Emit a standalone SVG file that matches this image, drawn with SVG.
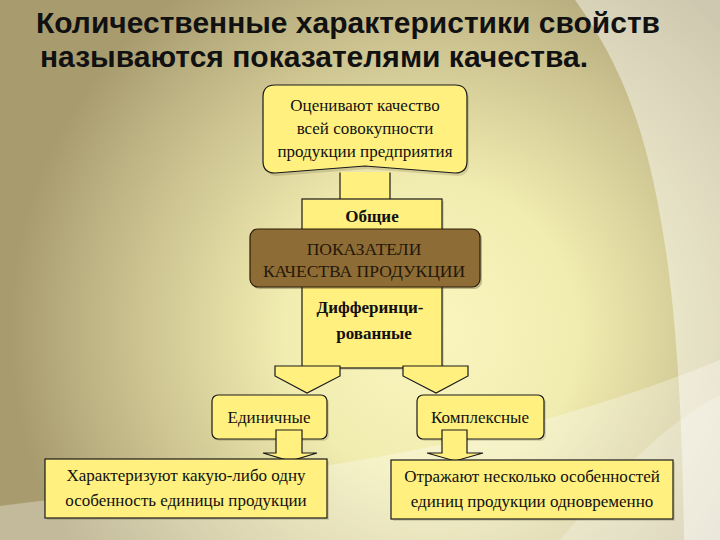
<svg xmlns="http://www.w3.org/2000/svg" width="720" height="540" viewBox="0 0 720 540">
<defs>
<radialGradient id="bg" cx="430" cy="330" r="420" gradientUnits="userSpaceOnUse">
<stop offset="0" stop-color="#faf6bf"/>
<stop offset="0.35" stop-color="#f1ecb0"/>
<stop offset="0.7" stop-color="#cbc290"/>
<stop offset="1" stop-color="#a89c6f"/>
</radialGradient>
<style>
.box{fill:#fff07f;stroke:#1a1a1a;stroke-width:1.2}
.sh{fill:#5a4f2a;opacity:0.18}
.t{font-family:"Liberation Serif","Times New Roman",serif;font-size:17px;fill:#111;text-anchor:middle}
.b{font-weight:bold}
.m{font-size:17.5px;fill:#24180a}
.title{font-family:"Liberation Sans",Arial,sans-serif;font-weight:bold;font-size:29px;fill:#111}
.arr{fill:#fff07f;stroke:#1a1a1a;stroke-width:1.2;stroke-linejoin:miter}
</style>
</defs>
<rect width="720" height="540" fill="url(#bg)"/>
<path d="M575,0 C640,90 680,200 684,540 L720,540 L720,0 Z" fill="#ffffff" opacity="0.45"/>
<path d="M0,506 C200,480 450,470 720,360 L720,540 L0,540 Z" fill="#ffffff" opacity="0.3"/>
<path d="M560,540 C620,470 670,420 720,395 L720,540 Z" fill="#ffffff" opacity="0.25"/>

<g id="title">
<text class="title" x="36" y="33" textLength="624" lengthAdjust="spacingAndGlyphs">Количественные характеристики свойств</text>
<text class="title" x="40" y="67" textLength="548" lengthAdjust="spacingAndGlyphs">называются показателями качества.</text>
</g>

<g id="node-top">
<path class="sh" d="M277,88 H457 Q469,88 469,100 V163 Q469,176 457,176 L367,169 L277,176 Q265,176 265,164 V100 Q265,88 277,88 Z"/>
<path class="box" d="M275,85 H455 Q467,85 467,97 V161 Q467,173 455,173 L365,166 L275,173 Q263,173 263,161 V97 Q263,85 275,85 Z"/>
<text class="t" x="365" y="111">Оценивают качество</text>
<text class="t" x="365" y="134">всей совокупности</text>
<text class="t" x="365" y="157">продукции предприятия</text>
</g>

<g id="connectors">
<rect x="340" y="172" width="50" height="27" fill="#fff07f"/>
<line x1="340" y1="172.5" x2="340" y2="199" stroke="#1a1a1a" stroke-width="1.2"/>
<line x1="390" y1="172.5" x2="390" y2="199" stroke="#1a1a1a" stroke-width="1.2"/>
</g>

<g id="node-center">
<rect class="sh" x="304" y="201" width="140" height="169"/>
<rect class="box" x="302" y="199" width="140" height="169"/>
<text class="t b" x="372" y="222">Общие</text>
<text class="t b" x="370" y="313">Дифферинци-</text>
<text class="t b" x="374" y="339">рованные</text>
</g>

<g id="node-main">
<rect x="252" y="231" width="230" height="58" rx="8" fill="#3a2c10" opacity="0.3"/>
<rect x="250" y="229" width="230" height="58" rx="8" fill="#8e6c35" stroke="#2a1c08" stroke-width="1.2"/>
<text class="t m" x="364" y="255">ПОКАЗАТЕЛИ</text>
<text class="t m" x="364" y="277">КАЧЕСТВА ПРОДУКЦИИ</text>
</g>

<g id="connectors-down">
<polygon class="arr" points="275,366 340,366 340,376 307,393 275,376"/>
<polygon class="arr" points="403,366 468,366 468,376 436,393 403,376"/>
</g>

<g id="node-single">
<rect class="sh" x="214" y="397" width="115" height="44" rx="6"/>
<rect class="box" x="212" y="395" width="115" height="44" rx="6"/>
<text class="t" x="269" y="423">Единичные</text>
</g>

<g id="node-complex">
<rect class="sh" x="419" y="397" width="127" height="44" rx="6"/>
<rect class="box" x="417" y="395" width="127" height="44" rx="6"/>
<text class="t" x="480" y="423">Комплексные</text>
</g>

<g id="connectors-bottom">
<polygon class="arr" points="276,430 302,430 302,453 317,453 290,461 263,453 276,453"/>
<polygon class="arr" points="442,430 467,430 467,453 483,453 455,461 427,453 442,453"/>
</g>

<g id="node-single-desc">
<rect class="sh" x="47" y="461" width="282" height="59"/>
<rect class="box" x="45" y="459" width="282" height="59"/>
<text class="t" x="186" y="481">Характеризуют какую-либо одну</text>
<text class="t" x="186" y="506">особенность единицы продукции</text>
</g>

<g id="node-complex-desc">
<rect class="sh" x="393" y="462" width="282" height="59"/>
<rect class="box" x="391" y="460" width="282" height="59"/>
<text class="t" x="532" y="482">Отражают несколько особенностей</text>
<text class="t" x="532" y="507">единиц продукции одновременно</text>
</g>
</svg>
